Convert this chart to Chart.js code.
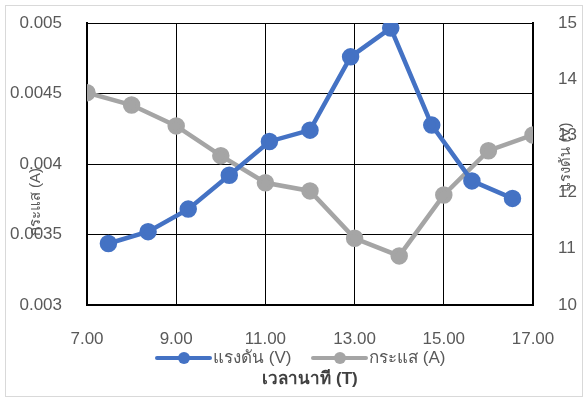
<!DOCTYPE html>
<html>
<head>
<meta charset="utf-8">
<script src="https://cdn.jsdelivr.net/npm/chart.js@4"></script>
<style>
  body { margin: 0; background: #fff; }
  #wrap { position: relative; width: 585px; height: 401px; }
  #frame { position: absolute; left: 5px; top: 5px; width: 578px; height: 392px; border: 1px solid #d9d9d9; box-sizing: border-box; pointer-events: none; }
</style>
</head>
<body>
<div id="wrap">
  <canvas id="c" width="585" height="401"></canvas>
  <div id="frame"></div>
</div>
<script>
// voltage series (right axis)
const voltX = [7.48, 8.37, 9.27, 10.19, 11.09, 12.0, 12.91, 13.81, 14.73, 15.63, 16.54];
const voltY = [11.09, 11.30, 11.70, 12.30, 12.90, 13.10, 14.40, 14.91, 13.19, 12.20, 11.89];
// current series (left axis)
const currX = [7, 8, 9, 10, 11, 12, 13, 14, 15, 16, 17];
const currY = [0.004506, 0.004418, 0.00427, 0.004059, 0.003867, 0.003809, 0.003473, 0.003348, 0.00378, 0.004094, 0.004206];

const voltLabel = 'แรงดัน (V)';
const currLabel = 'กระแส (A)';
const xTitle = 'เวลานาที (T)';

const FONT = '"Liberation Sans", "Noto Sans", sans-serif';
const blue = '#4472C4';
const gray = '#A5A5A5';
const textCol = '#595959';

function pts(xs, ys) {
  return xs.map((x, i) => ({ x: x, y: ys[i] }));
}

function fitY(w) {
  return function (s) {
    s.width = w;
    s.paddingTop = 0;
    s.paddingBottom = 0;
  };
}

const extras = {
  id: 'extras',
  afterDraw(chart) {
    const ctx = chart.ctx;
    ctx.save();
    // axis titles
    ctx.fillStyle = textCol;
    ctx.font = '15px ' + FONT;
    ctx.textAlign = 'center';
    ctx.textBaseline = 'middle';
    ctx.save();
    ctx.translate(36, 202);
    ctx.rotate(-Math.PI / 2);
    ctx.fillText(currLabel, 0, 0);
    ctx.restore();
    ctx.save();
    ctx.translate(566, 157);
    ctx.rotate(-Math.PI / 2);
    ctx.fillText(voltLabel, 0, 0);
    ctx.restore();

    // legend
    const items = [
      { x: 157, color: blue, text: voltLabel },
      { x: 313, color: gray, text: currLabel }
    ];
    const ly = 358;
    items.forEach(it => {
      ctx.strokeStyle = it.color;
      ctx.lineWidth = 4;
      ctx.lineCap = 'round';
      ctx.beginPath();
      ctx.moveTo(it.x, ly);
      ctx.lineTo(it.x + 53, ly);
      ctx.stroke();
      ctx.fillStyle = it.color;
      ctx.beginPath();
      ctx.arc(it.x + 27, ly, 6, 0, Math.PI * 2);
      ctx.fill();
      ctx.fillStyle = textCol;
      ctx.font = '17px ' + FONT;
      ctx.textAlign = 'left';
      ctx.fillText(it.text, it.x + 56, ly);
    });

    // x title
    ctx.fillStyle = '#404040';
    ctx.font = 'bold 17px ' + FONT;
    ctx.textAlign = 'center';
    ctx.fillText(xTitle, 310, 379);
    ctx.restore();
  }
};

new Chart(document.getElementById('c'), {
  type: 'scatter',
  data: {
    datasets: [
      {
        label: voltLabel,
        data: pts(voltX, voltY),
        yAxisID: 'y1',
        showLine: true,
        borderColor: blue,
        backgroundColor: blue,
        borderWidth: 4.5,
        pointRadius: 6.5,
        pointHoverRadius: 6.5,
        order: 1
      },
      {
        label: currLabel,
        data: pts(currX, currY),
        yAxisID: 'y',
        showLine: true,
        borderColor: gray,
        backgroundColor: gray,
        borderWidth: 4.5,
        pointRadius: 6.5,
        pointHoverRadius: 6.5,
        order: 2
      }
    ]
  },
  options: {
    responsive: false,
    animation: false,
    devicePixelRatio: 1,
    layout: { padding: { top: 23, left: 0, right: 0, bottom: 0 } },
    plugins: { legend: { display: false }, tooltip: { enabled: false } },
    scales: {
      x: {
        type: 'linear',
        min: 7, max: 17,
        afterFit(s) { s.height = 96; },
        border: { display: true, color: '#000', width: 2 },
        grid: { color: '#000', lineWidth: 1, drawTicks: false },
        ticks: {
          stepSize: 2,
          padding: 24,
          color: textCol,
          font: { family: FONT, size: 17 },
          maxRotation: 0,
          callback: v => v.toFixed(2)
        }
      },
      y: {
        position: 'left',
        min: 0.003, max: 0.005,
        afterFit: fitY(87),
        border: { display: true, color: '#000', width: 2 },
        grid: { color: '#000', lineWidth: 1, drawTicks: false },
        ticks: {
          stepSize: 0.0005,
          padding: 25,
          color: textCol,
          font: { family: FONT, size: 17 },
          callback: v => String(+v.toFixed(4))
        }
      },
      y1: {
        position: 'right',
        min: 10, max: 15,
        afterFit: fitY(52),
        border: { display: true, color: '#000', width: 2 },
        grid: { display: false, drawTicks: false },
        ticks: {
          stepSize: 1,
          padding: 25,
          color: textCol,
          font: { family: FONT, size: 17 }
        }
      }
    }
  },
  plugins: [extras]
});
</script>
</body>
</html>
